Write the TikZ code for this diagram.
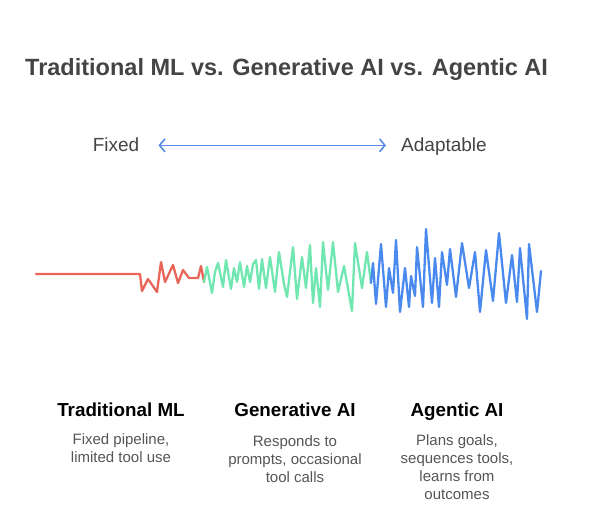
\documentclass[tikz,border=0pt]{standalone}
\usepackage{fontspec}
\setmainfont{Liberation Sans}
\usetikzlibrary{arrows.meta,positioning}
\definecolor{spTitle}{RGB}{ 68, 68, 68}
\definecolor{spText} {RGB}{ 85, 85, 85}
\definecolor{spRed}  {RGB}{232,101, 90}
\definecolor{spGreen}{RGB}{112,230,176}
\definecolor{spBlue} {RGB}{ 74,138,238}
\definecolor{spArrow}{RGB}{ 88,140,232}

\begin{document}
\begin{tikzpicture}[
    x=1pt,y=-1pt,
    every node/.style={inner sep=0pt},
    title/.style={font=\bfseries\fontsize{23.5}{28}\selectfont,text=spTitle,anchor=base west},
    endlabel/.style={font=\fontsize{19}{23}\selectfont,text=spTitle,anchor=base},
    head/.style={font=\bfseries\fontsize{18.8}{22}\selectfont,text=black,anchor=base},
    desc/.style={font=\fontsize{15}{18}\selectfont,text=spText,align=center,anchor=north},
    wave/.style={line width=2.3pt,line join=round,line cap=round},
    arr/.style={{Straight Barb[length=5.5pt,width=13pt]}-{Straight Barb[length=5.5pt,width=13pt]},
                line width=1.6pt,spArrow}
  ]
  \useasboundingbox (0,0) rectangle (589,520);
  % Title
  \node[title] (ttl) at (25,75) {Traditional ML vs. Generative AI vs. Agentic AI};
  % Scale: fixed <-> adaptable
  \node[endlabel] (fixed) at (116,151) {Fixed};
  \node[endlabel] (adapt) at (444,151) {Adaptable};
  \draw[arr] ([xshift=19pt,yshift=3pt]fixed.mid east) -- ([xshift=-15pt,yshift=3pt]adapt.mid west);
  % Waveform
  \draw[wave,spRed] (36,274) -- (140,274) -- (142,291) -- (148,279) -- (157,292)
    -- (161,262) -- (165,282) -- (173,265) -- (178,283) -- (183,270) -- (189,278)
    -- (198,278) -- (201,266) -- (204,282);
  \draw[wave,spGreen] (204,282) -- (207,267) -- (212,293) -- (215,272) -- (218,263)
    -- (223,287) -- (226,260) -- (231,289) -- (234,268) -- (237,282) -- (240,262)
    -- (244,287) -- (247,266) -- (250,282) -- (253,264) -- (256,260) -- (259,289)
    -- (262,259) -- (266,288) -- (270,257) -- (275,292) -- (279,252) -- (284,284)
    -- (287,297) -- (293,247) -- (297,299) -- (302,257) -- (306,288) -- (310,245)
    -- (313,303) -- (316,268) -- (320,307) -- (323,242) -- (328,290) -- (333,242)
    -- (338,292) -- (344,266) -- (352,311) -- (355,243) -- (362,288) -- (367,252)
    -- (371,283);
  \draw[wave,spBlue] (371,283) -- (373,263) -- (376,304) -- (381,244) -- (386,307)
    -- (389,268) -- (393,293) -- (396,240) -- (400,312) -- (405,268) -- (409,307)
    -- (411,276) -- (415,296) -- (417,247) -- (423,307) -- (426,229) -- (432,303)
    -- (435,258) -- (439,307) -- (442,252) -- (447,285) -- (450,249) -- (456,297)
    -- (462,243) -- (469,288) -- (475,252) -- (480,312) -- (486,250) -- (493,301)
    -- (499,233) -- (506,303) -- (512,255) -- (517,302) -- (520,248) -- (527,319)
    -- (529,244) -- (537,312) -- (541,271);
  % Columns
  \node[head] (trad) at (121,416) {Traditional ML};
  \node[head] (gen)  at (295,416) {Generative AI};
  \node[head] (agent) at (457,416) {Agentic AI};
  \node[desc,below=17pt of trad] (tradD) {Fixed pipeline,\\limited tool use};
  \node[desc,below=19pt of gen] (genD) {Responds to\\prompts, occasional\\tool calls};
  \node[desc,below=14pt of agent] (agentD) {Plans goals,\\sequences tools,\\learns from\\outcomes};
\end{tikzpicture}
\end{document}
